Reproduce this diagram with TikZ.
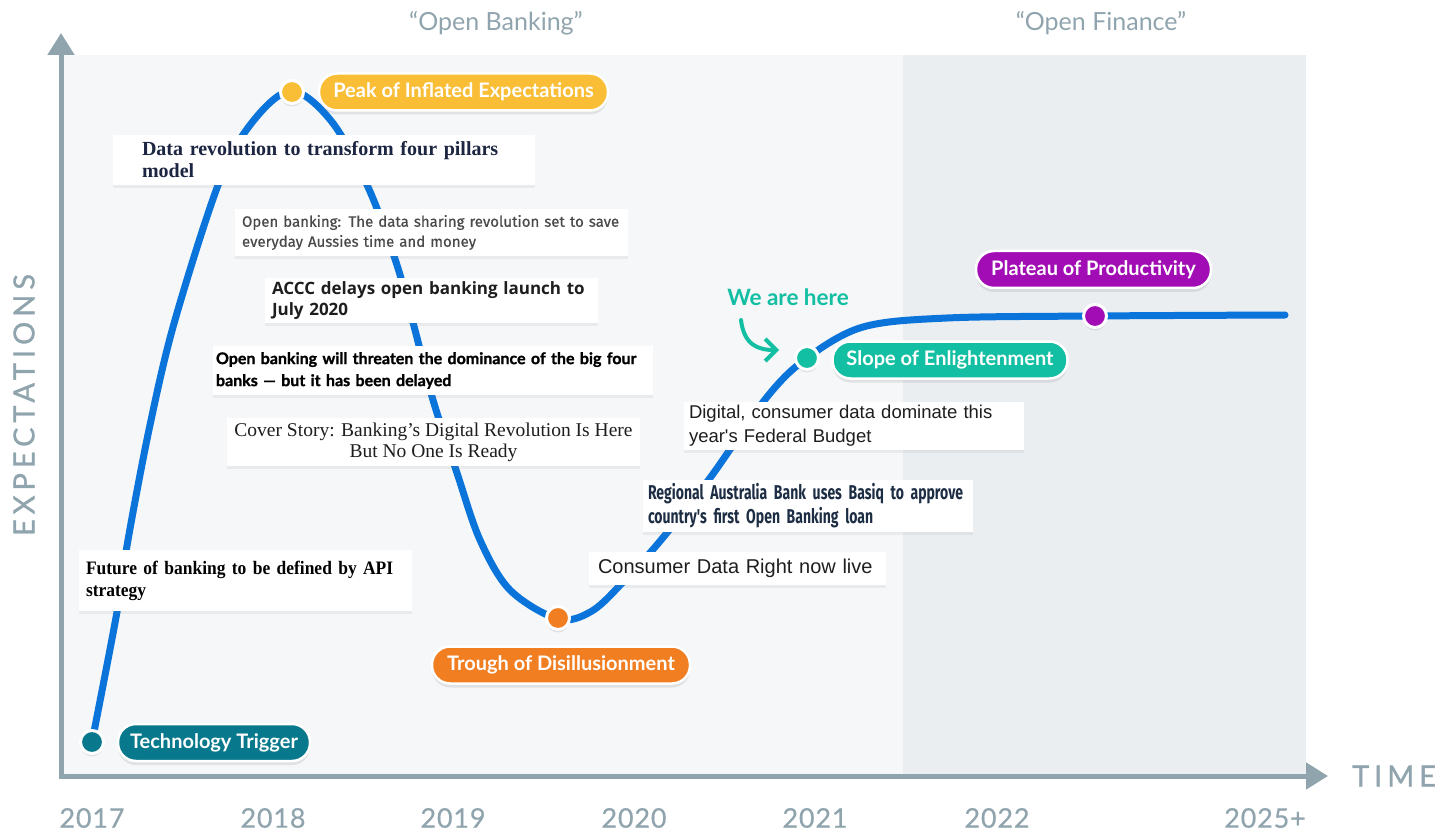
\documentclass[tikz,border=0pt]{standalone}
\usepackage{fontspec}
\usetikzlibrary{arrows.meta,shadows}
\setmainfont{Lato}
\newfontfamily\lato{Lato}
\newfontfamily\latoheavy{Lato}[FakeBold=1.2]
\newfontfamily\latosp{Lato}[LetterSpace=17,FakeBold=1]
\newfontfamily\latoyr{Lato}[LetterSpace=3,FakeBold=0.5]
\newfontfamily\hlA{Liberation Serif}
\newfontfamily\hlB{Fira Sans}[FakeBold=0.6]
\newfontfamily\hlC{Open Sans}
\newfontfamily\hlE{Liberation Serif}
\newfontfamily\hlF{Liberation Sans}
\newfontfamily\hlG{Fira Sans}[FakeStretch=0.7]
\newfontfamily\hlI{Liberation Serif}[FakeStretch=0.92]
\definecolor{axisc}{HTML}{90A4AE}
\definecolor{panelA}{HTML}{F5F7F9}
\definecolor{panelB}{HTML}{EAEEF1}
\definecolor{curvec}{HTML}{0A74DA}
\definecolor{techc}{HTML}{08798C}
\definecolor{peakc}{HTML}{F9BE36}
\definecolor{troughc}{HTML}{F27E22}
\definecolor{slopec}{HTML}{12BFA2}
\definecolor{platc}{HTML}{A20CB5}
\definecolor{navy}{HTML}{1C2541}
\definecolor{graytxt}{HTML}{4A4A4A}
\definecolor{darktxt}{HTML}{1E1E1E}
\definecolor{regnavy}{HTML}{1D2D44}
\begin{document}
\begin{tikzpicture}[x=1pt,y=-1pt,
  axis/.style={line width=5pt,draw=axisc,-{Triangle[length=22pt,width=26pt]}},
  axlabel/.style={text=axisc,font=\latosp\fontsize{29}{32}\selectfont,inner sep=0pt},
  yearlab/.style={text=axisc,font=\latoyr\fontsize{27}{30}\selectfont,inner sep=0pt},
  phase/.style={text=axisc,font=\lato\fontsize{25}{28}\selectfont,inner sep=0pt},
  curve/.style={line width=7pt,draw=curvec,line cap=round,line join=round},
  hl/.style={fill=white,inner ysep=0pt,align=left,
     drop shadow={opacity=0.10,shadow xshift=0pt,shadow yshift=-3pt}},
  dot/.style={circle,minimum size=23pt,inner sep=0pt,draw=white,line width=3pt,
     drop shadow={opacity=0.18,shadow xshift=0pt,shadow yshift=-3pt}},
  pill/.style={rounded corners=18pt,draw=white,line width=2.5pt,text=white,
     font=\lato\bfseries\fontsize{20}{22}\selectfont,minimum height=37pt,inner xsep=6pt,
     drop shadow={opacity=0.18,shadow xshift=0pt,shadow yshift=-4pt}},
  wehar/.style={line width=4pt,draw=slopec,line cap=round,
     -{Straight Barb[length=11pt,width=22pt]}}
]
\useasboundingbox (0,0) rectangle (1451,834);
\fill[panelA] (62,55) rectangle (903,776);
\fill[panelB] (903,55) rectangle (1306,776);

% axes
\coordinate (ybase) at (61,778.5);
\coordinate (ytip) at (61,33);
\coordinate (xbase) at (58.5,776);
\coordinate (xtip) at (1328,776);
\draw[axis] (ybase) -- (ytip);
\draw[axis] (xbase) -- (xtip);
\node[axlabel] (tlab) at (1394,776) {TIME};
\node[axlabel,rotate=90] (elab) at (24,405) {EXPECTATIONS};

% years
\node[yearlab] (y17) at (92,818) {2017};
\node[yearlab] (y18) at (273,818) {2018};
\node[yearlab] (y19) at (453,818) {2019};
\node[yearlab] (y20) at (634,818) {2020};
\node[yearlab] (y21) at (815,818) {2021};
\node[yearlab] (y22) at (997,818) {2022};
\node[yearlab] (y25) at (1265,818) {2025+};

% phases
\node[phase] (pob) at (496,23) {“Open Banking”};
\node[phase] (pof) at (1101,23) {“Open Finance”};

% hype curve
\draw[curve] plot[smooth,tension=0.55] coordinates {
 (92,742) (117,612) (128,540) (150,425) (175,320) (220,180) (254,120) (292,91)
 (332,122) (368,187) (396,262) (415,330) (433,400) (457,473) (480,540) (510,590) (558,619)
 (592,611) (625,580) (661,540) (710,478) (767,397) (807,358) (863,327) (947,318)
 (1095,316) (1285,315)};

% headlines
\node[hl,minimum width=422pt,minimum height=50pt,text width=364pt,inner xsep=29pt,
  text=navy,font=\hlA\bfseries\fontsize{20}{22}\selectfont] (h1) at (324,160)
  {Data revolution to transform four pillars\\model};
\node[hl,minimum width=393pt,minimum height=47pt,text width=379pt,inner xsep=7pt,
  text=graytxt,font=\hlB\fontsize{15}{20}\selectfont] (h2) at (431.5,232.5)
  {Open banking: The data sharing revolution set to save\\everyday Aussies time and money};
\node[hl,minimum width=333pt,minimum height=45pt,text width=319pt,inner xsep=7pt,
  text=darktxt,font=\hlC\bfseries\fontsize{17}{21}\selectfont] (h3) at (431.5,300.5)
  {ACCC delays open banking launch to\\July 2020};
\node[hl,minimum width=440pt,minimum height=49pt,text width=434pt,inner xsep=3pt,
  text=black,font=\latoheavy\bfseries\fontsize{16}{22}\selectfont] (h4) at (433,370.5)
  {Open banking will threaten the dominance of the big four\\banks — but it has been delayed};
\node[hl,minimum width=413pt,minimum height=48pt,inner xsep=4pt,align=center,
  text=darktxt,font=\hlE\fontsize{19.5}{21}\selectfont] (h5) at (433.5,442)
  {Cover Story: Banking’s Digital Revolution Is Here\\But No One Is Ready};
\node[hl,minimum width=340pt,minimum height=48pt,text width=330pt,inner xsep=5pt,
  text=darktxt,font=\hlF\fontsize{18.5}{24}\selectfont] (h6) at (854,426)
  {Digital, consumer data dominate this\\year's Federal Budget};
\node[hl,minimum width=330pt,minimum height=52pt,text width=320pt,inner xsep=5pt,
  text=regnavy,font=\hlG\bfseries\fontsize{20}{24}\selectfont] (h7) at (808,506)
  {Regional Australia Bank uses Basiq to approve\\country's first Open Banking loan};
\node[hl,minimum width=297pt,minimum height=33pt,text width=279pt,inner xsep=9pt,
  text=darktxt,font=\hlF\fontsize{20}{24}\selectfont] (h8) at (737.5,568.5)
  {Consumer Data Right now live};
\node[hl,minimum width=333pt,minimum height=61pt,text width=319pt,inner xsep=7pt,
  text=black,font=\hlI\bfseries\fontsize{19}{22}\selectfont] (h9) at (245.5,580.5)
  {Future of banking to be defined by API\\strategy};

% dots
\node[dot,fill=techc] (d1) at (92,742) {};
\node[dot,fill=peakc] (d2) at (292,92) {};
\node[dot,fill=troughc] (d3) at (558,618) {};
\node[dot,fill=slopec] (d4) at (807,358) {};
\node[dot,fill=platc] (d5) at (1095,316) {};

% phase labels
\node[pill,fill=techc,minimum width=192pt] (l1) at (214,742.5) {Technology Trigger};
\node[pill,fill=peakc,minimum width=289pt] (l2) at (463.5,92) {Peak of Inflated Expectations};
\node[pill,fill=troughc,minimum width=258pt] (l3) at (561,665) {Trough of Disillusionment};
\node[pill,fill=slopec,minimum width=235pt] (l4) at (950,360) {Slope of Enlightenment};
\node[pill,fill=platc,minimum width=235pt] (l5) at (1093.5,269.5) {Plateau of Productivity};

% we are here
\node[text=slopec,font=\lato\bfseries\fontsize{22.5}{25}\selectfont,inner sep=0pt] (weh) at (788,297) {We are here};
\coordinate (aS) at (741,320);
\coordinate (aE) at (779,350);
\draw[wehar] (aS) .. controls (744,345) and (758,350) .. (aE);
\end{tikzpicture}
\end{document}
